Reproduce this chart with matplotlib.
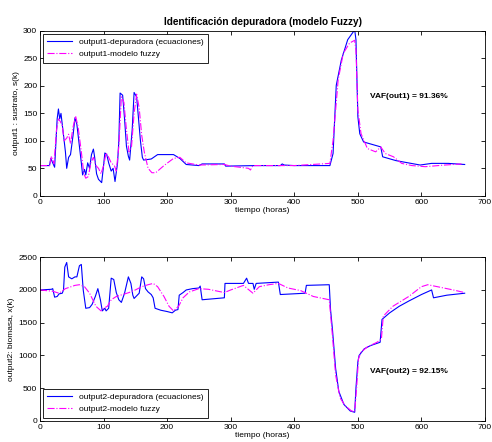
import matplotlib
matplotlib.use("Agg")
import matplotlib.pyplot as plt
import numpy as np

plt.rcParams['font.family'] = ['Liberation Sans', 'DejaVu Sans']
plt.rcParams['font.size'] = 6

# ---- output1: sustrato (real system) ----
t1_real = [0, 15, 17, 20, 23, 27, 29, 31, 33, 36, 40, 42, 45, 48, 52, 55, 58, 62, 65, 67, 70, 72, 75, 78, 81, 84,
           86, 89, 92, 97, 100, 102, 105, 108, 112, 115, 118, 122, 124, 126, 130, 133, 136, 139, 141, 145, 148, 152,
           155, 158, 161, 163, 175, 185, 210, 220, 230, 250, 255, 290, 292, 340, 378, 381, 384, 400, 456, 461, 466,
           474, 484, 495, 497, 500, 503, 509, 536, 539, 560, 598, 616, 642, 668]
s_real = [55, 55, 68, 60, 52, 140, 158, 140, 150, 120, 80, 50, 70, 75, 110, 142, 130, 90, 60, 38, 48, 38, 60, 50, 75, 85,
          70, 40, 30, 24, 55, 78, 75, 60, 45, 50, 26, 60, 100, 187, 183, 140, 90, 72, 65, 120, 188, 180,
          140, 100, 70, 65, 67, 75, 75, 68, 57, 55, 58, 58, 54, 55, 55, 58, 56, 55, 55, 77, 201,
          247, 284, 302, 284, 144, 113, 98, 89, 71, 64, 56, 59, 59, 57]

# ---- output1: sustrato (fuzzy model) ----
t1_fuzzy = [0, 15, 18, 22, 26, 29, 32, 35, 38, 42, 45, 48, 52, 56, 60, 65, 69, 72, 76, 80, 84, 88, 92, 96, 100, 104,
            108, 112, 117, 120, 124, 128, 132, 136, 140, 144, 148, 152, 156, 160, 164, 170, 176, 182, 195, 210, 220,
            230, 250, 290, 300, 328, 331, 335, 400, 456, 461, 469, 477, 487, 495, 497, 500, 505, 515, 528, 536, 543,
            556, 569, 585, 606, 637, 663]
s_fuzzy = [55, 55, 72, 58, 120, 140, 135, 128, 100, 105, 112, 95, 125, 145, 125, 80, 40, 32, 35, 60, 70, 55, 50, 40, 55, 78,
           70, 60, 55, 45, 90, 180, 170, 120, 80, 90, 150, 185, 160, 110, 80, 50, 42, 42, 55, 68, 70,
           60, 56, 57, 54, 50, 47, 55, 55, 59, 101, 211, 259, 278, 283, 265, 156, 113, 86, 80, 89, 77,
           71, 59, 55, 53, 56, 58]

# ---- output2: biomasa (real system) ----
t2_real = [0, 18, 20, 23, 27, 30, 35, 37, 39, 42, 45, 50, 55, 58, 62, 65, 68, 72, 78, 82, 87, 91, 95, 98, 102, 104, 108,
           112, 116, 120, 124, 128, 133, 139, 143, 146, 148, 152, 156, 160, 163, 166, 170, 175, 178, 181, 190, 200,
           208, 213, 217, 219, 225, 230, 240, 250, 252, 255, 290, 291, 320, 325, 328, 335, 337, 340, 375, 378, 417,
           419, 455, 457, 460, 465, 470, 478, 488, 495, 497, 500, 502, 510, 520, 535, 538, 550, 565, 580, 600, 616,
           619, 640, 668]
x_real = [2000, 2010, 2020, 1890, 1900, 1940, 1950, 2000, 2350, 2420, 2200, 2170, 2200, 2200, 2370, 2390, 2000, 1720,
          1730, 1780, 1900, 2020, 1850, 1680, 1720, 1680, 1720, 2180, 2160, 1960, 1850, 1810, 1950, 2200, 2100, 1920,
          1870, 1910, 1950, 2200, 2170, 2020, 1970, 1930, 1880, 1720, 1690, 1670, 1650, 1690, 1700, 1920, 1960, 2000,
          2020, 2030, 2060, 1850, 1880, 2100, 2100, 2180, 2100, 2100, 2010, 2100, 2120, 1930, 1950, 2070, 2080, 1700,
          1400, 800, 450, 250, 150, 130, 500, 900, 1000, 1100, 1150, 1200, 1550, 1650, 1750, 1830, 1930, 2000, 1880,
          1920, 1950]

# ---- output2: biomasa (fuzzy model) ----
t2_fuzzy = [0, 20, 30, 40, 55, 62, 70, 78, 88, 96, 100, 106, 112, 120, 130, 140, 150, 160, 170, 178, 185, 195, 203,
            210, 218, 225, 235, 250, 265, 280, 290, 300, 320, 335, 345, 360, 375, 390, 410, 430, 445, 455, 460, 465,
            472, 480, 490, 495, 498, 501, 505, 515, 530, 537, 540, 555, 580, 600, 610, 625, 650, 668]
x_fuzzy = [2000, 1980, 1950, 2020, 2070, 2080, 2050, 1950, 1750, 1680, 1720, 1750, 1850, 1900, 1930, 1960, 2000, 2050,
           2080, 2100, 2050, 1900, 1750, 1680, 1750, 1880, 1970, 2020, 2010, 1980, 1960, 2000, 2070, 1950, 2050, 2080,
           2100, 2030, 1990, 1900, 1870, 1850, 1300, 700, 350, 230, 150, 140, 500, 950, 1050, 1130, 1200, 1250, 1600,
           1750, 1900, 2050, 2080, 2050, 2000, 1960]

title = "Identificación depuradora (modelo Fuzzy)"
vaf1 = "VAF(out1) = 91.36%"
vaf2 = "VAF(out2) = 92.15%"

fig = plt.figure(figsize=(4.92, 4.42), dpi=100)
ax1 = fig.add_axes([0.0813, 0.557, 0.9045, 0.373])
ax2 = fig.add_axes([0.0813, 0.048, 0.9045, 0.370])

blue = '#0000ff'
mag = '#ff00ff'

leg_kw = dict(fancybox=False, edgecolor='black', framealpha=1, borderaxespad=0.35,
              handlelength=3.0, labelspacing=0.5, borderpad=0.55, handletextpad=0.8)

ax1.plot(t1_real, s_real, color=blue, lw=0.8, label='output1-depuradora (ecuaciones)')
ax1.plot(t1_fuzzy, s_fuzzy, color=mag, lw=0.8, ls='-.', label='output1-modelo fuzzy')
ax1.set_xlim(0, 700)
ax1.set_ylim(0, 300)
ax1.set_xticks(range(0, 701, 100))
ax1.set_yticks(range(0, 301, 50))
ax1.set_xlabel('tiempo (horas)', labelpad=1)
ax1.set_ylabel('output1 : sustrato, s(k)', labelpad=2)
ax1.set_title(title, fontweight='bold', pad=4)
ax1.text(519, 180, vaf1, fontweight='bold', va='center', ha='left')
lg1 = ax1.legend(loc='upper left', **leg_kw)
lg1.get_frame().set_linewidth(0.6)

ax2.plot(t2_real, x_real, color=blue, lw=0.8, label='output2-depuradora (ecuaciones)')
ax2.plot(t2_fuzzy, x_fuzzy, color=mag, lw=0.8, ls='-.', label='output2-modelo fuzzy')
ax2.set_xlim(0, 700)
ax2.set_ylim(0, 2500)
ax2.set_xticks(range(0, 701, 100))
ax2.set_yticks(range(0, 2501, 500))
ax2.set_xlabel('tiempo (horas)', labelpad=1)
ax2.set_ylabel('output2: biomasa, x(k)', labelpad=2)
ax2.text(519, 750, vaf2, fontweight='bold', va='center', ha='left')
lg2 = ax2.legend(loc='lower left', **leg_kw)
lg2.get_frame().set_linewidth(0.6)

for ax in (ax1, ax2):
    ax.tick_params(direction='in', top=True, right=True, length=3, width=0.6, pad=2)
    for sp in ax.spines.values():
        sp.set_linewidth(0.6)

fig.savefig('out.png', dpi=100)
